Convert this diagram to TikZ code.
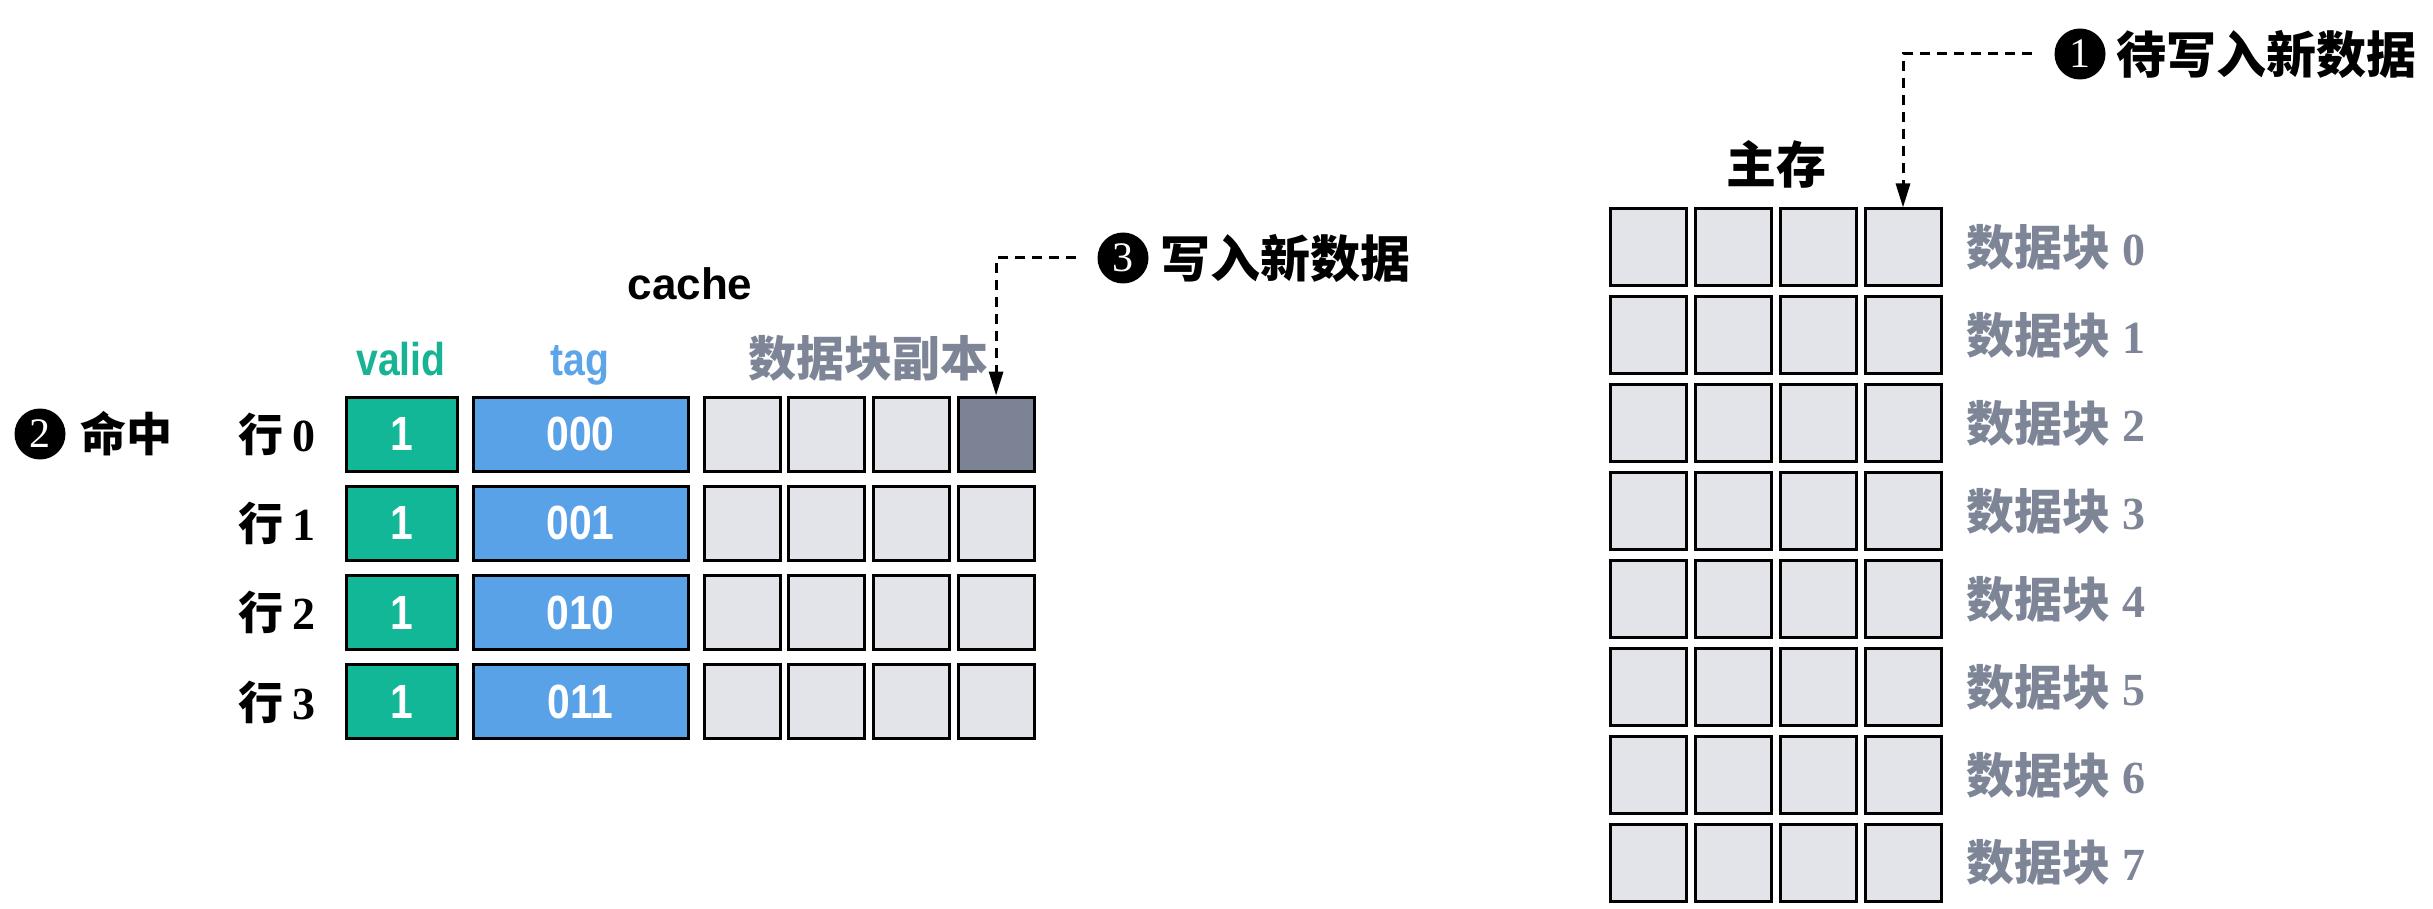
\documentclass[tikz,border=0pt]{standalone}
\usepackage{fontspec}
\usetikzlibrary{arrows.meta}
\setmainfont{Liberation Sans}
\newfontfamily\cjk{Noto Sans CJK SC}
\newfontfamily\cond{Liberation Sans}[FakeStretch=0.85]
\newfontfamily\serifd{Liberation Serif}
\definecolor{validfill}{HTML}{12B797}
\definecolor{validtext}{HTML}{17B394}
\definecolor{tagfill}{HTML}{5AA2E8}
\definecolor{tagtext}{HTML}{5DA5E9}
\definecolor{cellfill}{HTML}{E2E4EA}
\definecolor{cellnew}{HTML}{7B8395}
\definecolor{graytext}{HTML}{7D8597}
\tikzset{
  box/.style={draw=black, line width=3pt, inner sep=0pt, minimum height=74pt},
  vbox/.style={box, fill=validfill, minimum width=111pt, text=white, font=\cond\bfseries\fontsize{48}{50}\selectfont},
  tbox/.style={box, fill=tagfill, minimum width=215pt, text=white, font=\cond\bfseries\fontsize{48}{50}\selectfont},
  cbox/.style={box, fill=cellfill, minimum width=76pt},
  mbox/.style={draw=black, line width=3pt, inner sep=0pt, fill=cellfill, minimum width=76pt, minimum height=77pt},
  rowlbl/.style={anchor=west, inner sep=0pt, font=\bfseries\fontsize{45}{50}\selectfont},
  blklbl/.style={anchor=west, inner sep=0pt, text=graytext, font=\bfseries\fontsize{48}{52}\selectfont},
  numcirc/.style={circle, fill=black, text=white, inner sep=0pt, minimum size=51pt, font=\serifd\fontsize{42}{44}\selectfont},
  ann/.style={anchor=west, inner sep=0pt, font=\cjk\bfseries\fontsize{50}{54}\selectfont},
  dasharrow/.style={draw=black, line width=3pt, dash pattern=on 10pt off 7pt, -{Triangle[width=14pt,length=24pt]}},
}
\begin{document}
\begin{tikzpicture}[x=1pt,y=-1pt]
\useasboundingbox (0,0) rectangle (2433,909);
% cache headers
\node[anchor=base, inner sep=0pt, font=\bfseries\fontsize{44}{48}\selectfont] (cachettl) at (690,300) {cache};
\node[anchor=base, inner sep=0pt, text=validtext, font=\cond\bfseries\fontsize{46}{50}\selectfont] (validttl) at (401,375) {valid};
\node[anchor=base, inner sep=0pt, text=tagtext, font=\cond\bfseries\fontsize{46}{50}\selectfont] (tagttl) at (580,375) {tag};
\node[inner sep=0pt, text=graytext, font=\cjk\bfseries\fontsize{48}{52}\selectfont] (copyttl) at (868,358) {数据块副本};
% cache rows
\foreach \r/\tg in {0/000,1/001,2/010,3/011}{
  \pgfmathsetmacro{\cy}{434+89.3*\r}
  \node[rowlbl] (row\r) at (238,\cy) {{\cjk\bfseries 行}\hspace{9pt}{\serifd\bfseries\fontsize{46}{50}\selectfont \r}};
  \node[vbox] (v\r) at (401.5,\cy) {1};
  \node[tbox] (t\r) at (580.5,\cy) {\tg};
  \foreach \k in {0,1,2,3}{
    \pgfmathsetmacro{\cx}{742+84.7*\k}
    \node[cbox] (c-\r-\k) at (\cx,\cy) {};
  }
}
\node[cbox, fill=cellnew] (c-0-3) at (996.1,434) {};
% hit annotation
\node[numcirc] (n2) at (40,434) {2};
\node[ann, font=\cjk\bfseries\fontsize{46}{50}\selectfont] (hit) at (80,434) {命中};
% write annotation
\node[numcirc] (n3) at (1123,258) {3};
\node[ann] (wr3) at (1160,258) {写入新数据};
\coordinate (s3) at (1076,258);
\draw[dasharrow] (s3) -| (c-0-3.north);
% main memory
\node[inner sep=0pt, font=\cjk\bfseries\fontsize{50}{54}\selectfont] (memttl) at (1776,164) {主存};
\foreach \r in {0,...,7}{
  \pgfmathsetmacro{\my}{247.5+87.9*\r}
  \foreach \k in {0,1,2,3}{
    \pgfmathsetmacro{\mx}{1648+85*\k}
    \node[mbox] (m-\r-\k) at (\mx,\my) {};
  }
  \node[blklbl] (blk\r) at (1966,\my) {{\cjk\bfseries 数据块}\hspace{12pt}{\serifd\bfseries\fontsize{46}{48}\selectfont \r}};
}
\node[numcirc] (n1) at (2080,54) {1};
\node[ann] (wr1) at (2116,54) {待写入新数据};
\coordinate (s1) at (2032,54);
\draw[dasharrow] (s1) -| (m-0-3.north);
\end{tikzpicture}
\end{document}
